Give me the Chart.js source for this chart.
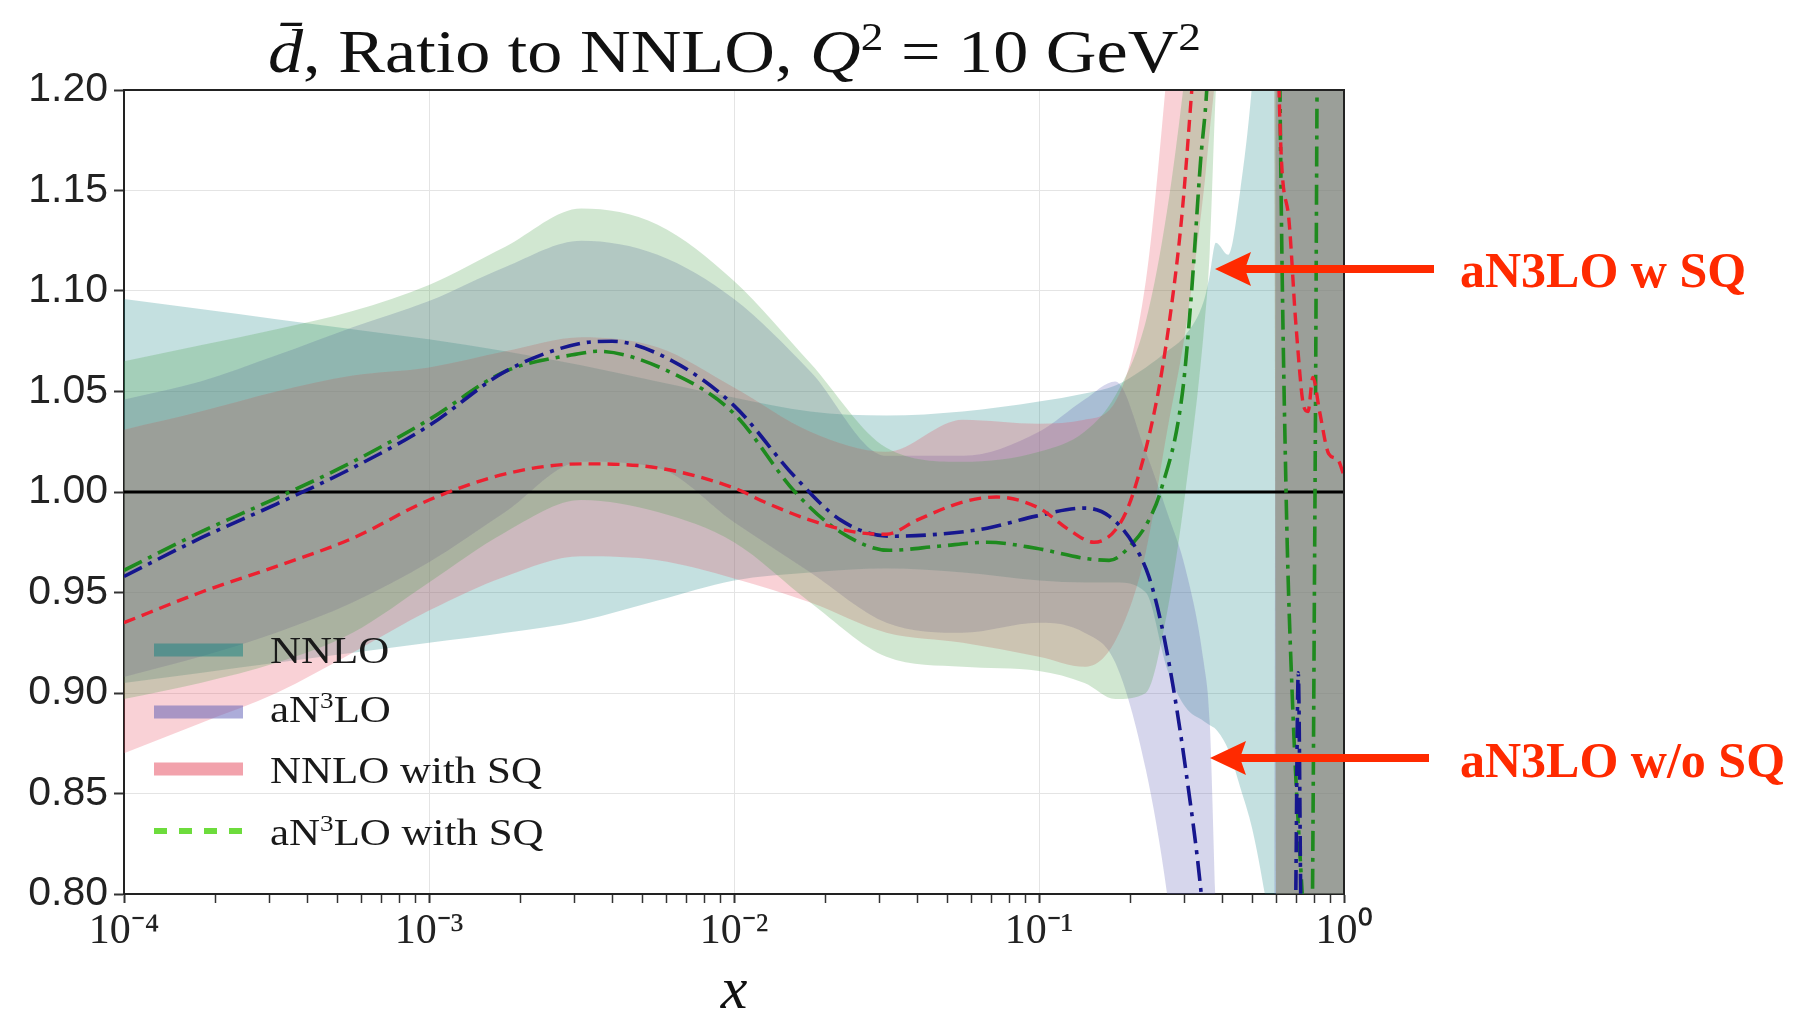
<!DOCTYPE html>
<html>
<head>
<meta charset="utf-8">
<title>dbar ratio to NNLO</title>
<script src="https://cdn.jsdelivr.net/npm/chart.js@4.4.0/dist/chart.umd.min.js"></script>
<style>
  html, body { margin: 0; padding: 0; background: #fff; }
  #wrap { width: 1804px; height: 1015px; }
</style>
</head>
<body>
<div id="wrap"><canvas id="chart" width="1804" height="1015"></canvas></div>
<script>
/* ============================================================
   Data
   ============================================================ */

// x grid shared by the four uncertainty bands
const bandX = [0.0001, 0.000178, 0.000316, 0.000562, 0.001, 0.00178, 0.00316, 0.00562, 0.01, 0.0178,
  0.0316, 0.0562, 0.1, 0.141, 0.178, 0.224, 0.263, 0.302, 0.347, 0.363,
  0.380, 0.417, 0.457, 0.501, 0.550, 0.582, 0.610, 0.794, 1.0];

const nnloUp = [1.096, 1.091, 1.086, 1.081, 1.076, 1.070, 1.063, 1.055, 1.047, 1.040,
  1.038, 1.040, 1.045, 1.049, 1.053, 1.062, 1.070, 1.078, 1.095, 1.108,
  1.124, 1.118, 1.150, 1.205, 1.30, 1.45, 1.60, 1.60, 1.60];
const nnloLo = [0.905, 0.910, 0.915, 0.920, 0.925, 0.930, 0.936, 0.946, 0.956, 0.960,
  0.962, 0.960, 0.956, 0.955, 0.955, 0.950, 0.912, 0.893, 0.886, 0.884,
  0.882, 0.872, 0.853, 0.832, 0.800, 0.750, 0.40, 0.40, 0.40];

const an3loUp = [1.046, 1.055, 1.068, 1.082, 1.095, 1.112, 1.125, 1.118, 1.096, 1.060,
  1.018, 1.018, 1.030, 1.046, 1.055, 1.020, 0.990, 0.962, 0.915, 0.885,
  0.790, 0.60, 0.50, 0.50, 0.50, 0.50, 1.60, 1.60, 1.60];
const an3loLo = [0.908, 0.918, 0.930, 0.945, 0.965, 0.990, 1.015, 1.012, 0.985, 0.960,
  0.935, 0.930, 0.935, 0.930, 0.915, 0.862, 0.800, 0.720, 0.620, 0.580,
  0.550, 0.450, 0.40, 0.35, 0.30, 0.30, 0.40, 0.40, 0.40];

const nnloSqUp = [1.031, 1.040, 1.050, 1.058, 1.062, 1.070, 1.077, 1.072, 1.052, 1.030,
  1.020, 1.036, 1.034, 1.036, 1.045, 1.105, 1.21, 1.32, 1.45, 1.50,
  1.55, 1.60, 1.60, 1.60, 1.60, 1.60, 1.60, 1.60, 1.60];
const nnloSqLo = [0.870, 0.885, 0.900, 0.920, 0.941, 0.958, 0.968, 0.966, 0.957, 0.945,
  0.930, 0.925, 0.918, 0.913, 0.926, 0.970, 1.03, 1.08, 1.15, 1.18,
  1.21, 1.30, 1.40, 1.45, 1.50, 1.50, 0.40, 0.40, 0.40];

const an3loSqUp = [1.065, 1.073, 1.081, 1.090, 1.103, 1.122, 1.141, 1.133, 1.105, 1.064,
  1.022, 1.015, 1.020, 1.030, 1.048, 1.085, 1.14, 1.21, 1.30, 1.35,
  1.40, 1.50, 1.60, 1.60, 1.60, 1.60, 1.60, 1.60, 1.60];
const an3loSqLo = [0.897, 0.905, 0.915, 0.930, 0.955, 0.980, 0.996, 0.990, 0.975, 0.945,
  0.918, 0.913, 0.911, 0.905, 0.897, 0.900, 0.94, 1.00, 1.08, 1.12,
  1.20, 1.30, 1.40, 1.50, 1.50, 1.50, 0.40, 0.40, 0.40];

// central values
const nnloX = [0.0001, 1.0];
const nnloY = [1.0, 1.0];

const an3loX = [0.0001, 0.000178, 0.000316, 0.000562, 0.001, 0.00178, 0.00316, 0.00398, 0.00631, 0.01,
  0.01585, 0.02239, 0.03236, 0.04677, 0.06761, 0.09772, 0.1413, 0.1698, 0.2042,
  0.2291, 0.2512, 0.2754, 0.3020, 0.3388, 0.3631, 0.4467, 0.631, 0.676, 0.695,
  0.708, 0.721, 0.741, 1.0];
const an3loY = [0.958, 0.977, 0.994, 1.012, 1.033, 1.060, 1.074, 1.075, 1.065, 1.043,
  1.0075, 0.986, 0.978, 0.979, 0.982, 0.988, 0.992, 0.988, 0.974,
  0.958, 0.935, 0.903, 0.863, 0.803, 0.750, 0.60, 0.50, 0.60, 0.80,
  0.91, 0.80, 0.60, 0.50];

const an3loSqX = [0.0001, 0.000178, 0.000316, 0.000562, 0.001, 0.00178, 0.00316, 0.00355, 0.00631, 0.01,
  0.01585, 0.02239, 0.03236, 0.04677, 0.06761, 0.09772, 0.1413, 0.1698, 0.2042, 0.2291,
  0.2512, 0.2951, 0.3162, 0.3388, 0.3548, 0.3802, 0.5012, 0.5888, 0.6166, 0.6457,
  0.6761, 0.7413, 0.7762, 0.8035, 0.8222, 0.8511, 1.0];
const an3loSqY = [0.961, 0.980, 0.997, 1.015, 1.036, 1.060, 1.069, 1.070, 1.059, 1.039,
  1.000, 0.980, 0.971, 0.973, 0.975, 0.972, 0.967, 0.966, 0.975, 0.986,
  1.001, 1.049, 1.099, 1.165, 1.200, 1.30, 1.60, 1.60, 1.20, 1.00,
  0.90, 0.78, 0.72, 1.00, 1.30, 1.60, 1.60];

const nnloSqX = [0.0001, 0.000178, 0.000316, 0.000562, 0.001, 0.00178, 0.00316, 0.00562, 0.01, 0.01259,
  0.01778, 0.02512, 0.03162, 0.03981, 0.05623, 0.07244, 0.1, 0.1259, 0.1514, 0.1820,
  0.2042, 0.2455, 0.2754, 0.2951, 0.3162, 0.3388, 0.3631, 0.5012, 0.5888, 0.6124,
  0.6546, 0.6966, 0.7396, 0.7621, 0.7907, 0.8318, 0.8913, 0.9550, 1.0];
const nnloSqY = [0.935, 0.950, 0.963, 0.977, 0.996, 1.009, 1.014, 1.012, 1.002, 0.995,
  0.986, 0.980, 0.979, 0.986, 0.995, 0.9975, 0.992, 0.981, 0.975, 0.983,
  1.000, 1.049, 1.099, 1.140, 1.198, 1.26, 1.40, 1.60, 1.60, 1.20,
  1.14, 1.082, 1.042, 1.040, 1.057, 1.040, 1.019, 1.016, 1.008];

// axes
const xMajorTicks = [0.0001, 0.001, 0.01, 0.1, 1];
const xTickLabels = ['10\u207B\u2074', '10\u207B\u00B3', '10\u207B\u00B2', '10\u207B\u00B9', '10\u2070'];
const yTicks = [0.80, 0.85, 0.90, 0.95, 1.00, 1.05, 1.10, 1.15, 1.20];
const yTickLabels = ['0.80', '0.85', '0.90', '0.95', '1.00', '1.05', '1.10', '1.15', '1.20'];

const legendLabels = ['NNLO', 'aN3LO', 'NNLO with SQ', 'aN3LO with SQ'];
const noteLabels = ['aN3LO w SQ', 'aN3LO w/o SQ'];

/* ============================================================
   Styles
   ============================================================ */
const SERIF = '"Liberation Serif", "Times New Roman", serif';
const SANS  = '"Liberation Sans", Arial, sans-serif';

const BAND_RGB = {
  nnlo    : '20, 130, 130',
  an3lo   : '90, 90, 180',
  nnloSq  : '230, 70, 90',
  an3loSq : '70, 160, 70',
};
const BAND_ALPHA = 0.25;
const NOTE_RED = '#ff2a00';

function points(xs, ys) {
  return xs.map((x, i) => ({ x: x, y: ys[i] }));
}

function bandPair(key, up, lo, order) {
  const common = { pointRadius: 0, borderWidth: 0, cubicInterpolationMode: 'monotone', order: order };
  return [
    Object.assign({ label: key, data: points(bandX, up), fill: '+1',
      backgroundColor: 'rgba(' + BAND_RGB[key] + ',' + BAND_ALPHA + ')' }, common),
    Object.assign({ label: key + '-lo', data: points(bandX, lo), fill: false }, common),
  ];
}

function centralLine(label, xs, ys, color, width, dash, order) {
  return {
    label: label, data: points(xs, ys), fill: false,
    borderColor: color, borderWidth: width, borderDash: dash,
    pointRadius: 0, cubicInterpolationMode: 'monotone', order: order,
  };
}

function isMajor(v) {
  return xMajorTicks.some(m => Math.abs(Math.log10(v) - Math.log10(m)) < 1e-6);
}

/* draw a run of text pieces (font / raise), optionally stretched to a width */
function drawRun(ctx, parts, x, baseline, opts) {
  opts = opts || {};
  let total = 0;
  const widths = parts.map(p => {
    ctx.font = p.font;
    const w = ctx.measureText(p.text).width;
    total += w;
    return w;
  });
  const sx = opts.width ? opts.width / total : (opts.stretch || 1);
  let x0 = x;
  if (opts.align === 'center') x0 = x - total * sx / 2;
  ctx.save();
  ctx.translate(x0, baseline);
  ctx.scale(sx, 1);
  ctx.fillStyle = opts.color || '#111';
  ctx.textAlign = 'left';
  ctx.textBaseline = 'alphabetic';
  let cx = 0;
  parts.forEach((p, i) => {
    ctx.font = p.font;
    ctx.fillText(p.text, cx, -(p.rise || 0));
    cx += widths[i];
  });
  ctx.restore();
}

// "aN3LO" with the 3 raised, as in the legend
function n3loParts(label, size) {
  const f = size + 'px ' + SERIF;
  const fs = Math.round(size * 0.62) + 'px ' + SERIF;
  const i = label.indexOf('N3');
  if (i < 0) return [{ text: label, font: f }];
  return [
    { text: label.slice(0, i + 1), font: f },
    { text: '3', font: fs, rise: size * 0.36 },
    { text: label.slice(i + 2), font: f },
  ];
}

/* ============================================================
   Plugins: frame, title, legend, notes
   ============================================================ */
const framePlugin = {
  id: 'frame',
  afterDatasetsDraw(chart) {
    const a = chart.chartArea, ctx = chart.ctx;
    ctx.save();
    ctx.strokeStyle = '#222';
    ctx.lineWidth = 2;
    ctx.beginPath();
    ctx.moveTo(a.left, a.top);
    ctx.lineTo(a.right, a.top);
    ctx.lineTo(a.right, a.bottom);
    ctx.stroke();
    ctx.restore();
  },
};

const textPlugin = {
  id: 'texts',
  afterDraw(chart) {
    const ctx = chart.ctx;
    const a = chart.chartArea;

    // --- title ---
    const T = 62, TS = 40;
    drawRun(ctx, [
      { text: 'd\u0304', font: 'italic ' + T + 'px ' + SERIF },
      { text: ', Ratio to NNLO, ', font: T + 'px ' + SERIF },
      { text: 'Q', font: 'italic ' + T + 'px ' + SERIF },
      { text: '2', font: TS + 'px ' + SERIF, rise: 22 },
      { text: ' = 10 GeV', font: T + 'px ' + SERIF },
      { text: '2', font: TS + 'px ' + SERIF, rise: 22 },
    ], 268, 72, { width: 933 });

    // --- x axis label ---
    drawRun(ctx, [{ text: 'x', font: 'italic 60px ' + SERIF }], (a.left + a.right) / 2, 1008, { align: 'center' });

    // --- legend ---
    const rows = [
      { y: 650, base: 663, kind: 'patch', rgb: BAND_RGB.nnlo },
      { y: 712, base: 722, kind: 'patch', rgb: BAND_RGB.an3lo },
      { y: 769, base: 783, kind: 'patch', rgb: BAND_RGB.nnloSq },
      { y: 831, base: 845, kind: 'dash',  rgb: '109, 220, 60' },
    ];
    rows.forEach((r, i) => {
      ctx.save();
      if (r.kind === 'patch') {
        ctx.fillStyle = 'rgba(' + r.rgb + ',0.5)';
        ctx.fillRect(154, r.y - 6.5, 89, 13);
      } else {
        ctx.strokeStyle = 'rgb(' + r.rgb + ')';
        ctx.lineWidth = 6;
        ctx.setLineDash([13, 12]);
        ctx.beginPath();
        ctx.moveTo(154, r.y);
        ctx.lineTo(243, r.y);
        ctx.stroke();
      }
      ctx.restore();
      drawRun(ctx, n3loParts(legendLabels[i], 38), 270, r.base, { stretch: 1.13, color: '#1a1a1a' });
    });

    // --- red notes with arrows ---
    const notes = [
      { tail: 1434, tip: 1215, y: 269, base: 287 },
      { tail: 1429, tip: 1210, y: 758, base: 777 },
    ];
    notes.forEach((n, i) => {
      ctx.save();
      ctx.strokeStyle = NOTE_RED;
      ctx.fillStyle = NOTE_RED;
      ctx.lineWidth = 8;
      ctx.beginPath();
      ctx.moveTo(n.tail, n.y);
      ctx.lineTo(n.tip + 30, n.y);
      ctx.stroke();
      ctx.beginPath();
      ctx.moveTo(n.tip, n.y);
      ctx.lineTo(n.tip + 36, n.y - 17);
      ctx.lineTo(n.tip + 30, n.y);
      ctx.lineTo(n.tip + 36, n.y + 17);
      ctx.closePath();
      ctx.fill();
      ctx.restore();
      drawRun(ctx, [{ text: noteLabels[i], font: 'bold 50px ' + SERIF }], 1460, n.base, { color: NOTE_RED });
    });
  },
};

/* ============================================================
   Chart
   ============================================================ */
(function () {
  'use strict';

  // every 1..9 x 10^n position for the log axis ticks
  const xAllTicks = [];
  xMajorTicks.forEach((m, i) => {
    if (i === xMajorTicks.length - 1) { xAllTicks.push(m); return; }
    for (let k = 1; k <= 9; k++) xAllTicks.push(m * k);
  });

  const dashDot = [20, 7, 4, 7];
  const datasets = [].concat(
    [centralLine('NNLO central', nnloX, nnloY, '#000000', 3, [], 4)],
    [centralLine('aN3LO with SQ central', an3loSqX, an3loSqY, '#1e8a1e', 3.6, dashDot, 3)],
    [centralLine('aN3LO central', an3loX, an3loY, '#16168e', 3.6, dashDot, 2)],
    [centralLine('NNLO with SQ central', nnloSqX, nnloSqY, '#ec2030', 3.4, [12, 7], 1)],
    bandPair('nnlo', nnloUp, nnloLo, 40),
    bandPair('an3lo', an3loUp, an3loLo, 30),
    bandPair('nnloSq', nnloSqUp, nnloSqLo, 20),
    bandPair('an3loSq', an3loSqUp, an3loSqLo, 10)
  );

  new Chart(document.getElementById('chart'), {
    type: 'line',
    data: { datasets },
    options: {
      responsive: false,
      animation: false,
      devicePixelRatio: 1,
      layout: { padding: { top: 90, right: 460, left: 0, bottom: 0 } },
      plugins: { legend: { display: false }, title: { display: false }, tooltip: { enabled: false } },
      scales: {
        x: {
          type: 'logarithmic',
          min: 0.0001,
          max: 1,
          afterBuildTicks: (s) => { s.ticks = xAllTicks.map(v => ({ value: v })); },
          afterFit: (s) => { s.height = 121; },
          ticks: {
            autoSkip: false,
            maxRotation: 0,
            padding: 4,
            color: '#222',
            font: { family: SERIF, size: 42 },
            callback: (v) => {
              const i = xMajorTicks.findIndex(m => Math.abs(Math.log10(v) - Math.log10(m)) < 1e-6);
              return i >= 0 ? xTickLabels[i] : '';
            },
          },
          grid: {
            color: (c) => (c.tick && isMajor(c.tick.value)) ? '#e4e4e4' : 'rgba(0,0,0,0)',
            tickColor: '#333',
            tickLength: 9,
            tickWidth: (c) => (c.tick && isMajor(c.tick.value)) ? 2 : 1.5,
          },
          border: { color: '#222', width: 2 },
        },
        y: {
          min: 0.8,
          max: 1.2,
          afterBuildTicks: (s) => { s.ticks = yTicks.map(v => ({ value: v })); },
          afterFit: (s) => { s.width = 124; },
          ticks: {
            padding: 6,
            color: '#222',
            font: { family: SANS, size: 41 },
            callback: (v) => {
              const i = yTicks.findIndex(t => Math.abs(t - v) < 1e-6);
              return i >= 0 ? yTickLabels[i] : '';
            },
          },
          grid: { color: '#e4e4e4', tickColor: '#333', tickLength: 10, tickWidth: 2 },
          border: { color: '#222', width: 2 },
        },
      },
    },
    plugins: [framePlugin, textPlugin],
  });
})();
</script>
</body>
</html>
